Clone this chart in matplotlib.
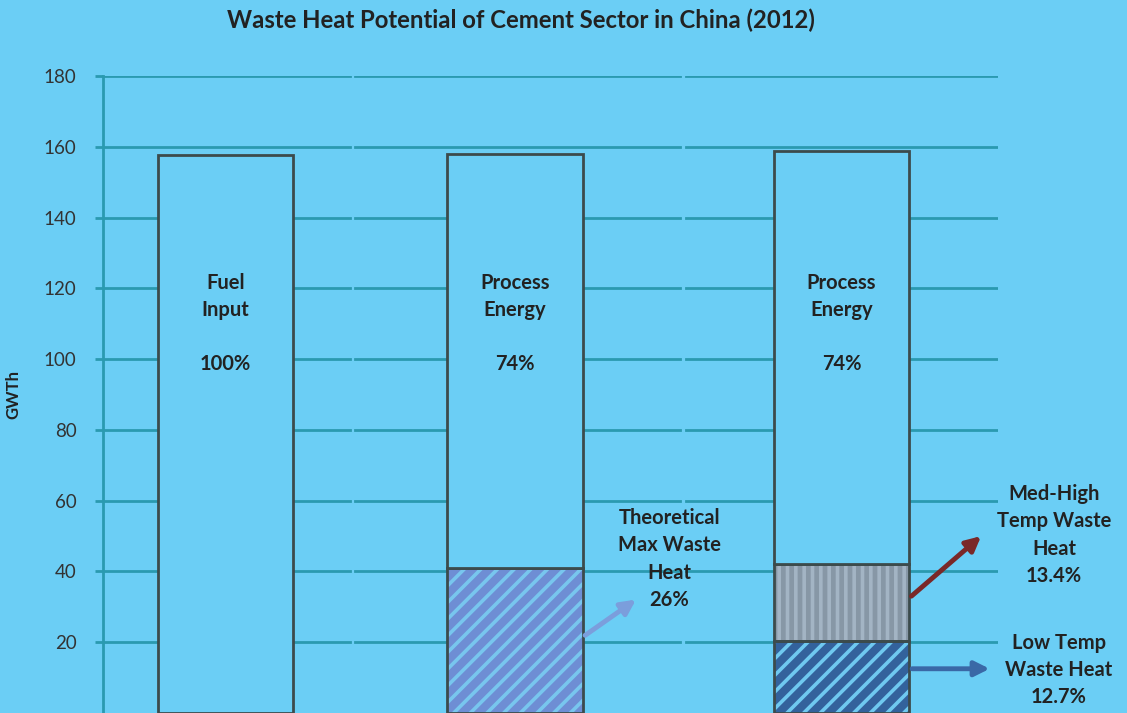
import matplotlib.pyplot as plt
import numpy as np

# Donnees (GWTh)
categories = ['Fuel Input', 'Process Energy', 'Process Energy']
pourcentages = ['100%', '74%', '74%']
fuel_input = 157.6
process_energy = [116.9, 116.6]
waste_max = 41.1
waste_med_high = 21.9
waste_low = 20.3
waste_labels = ['Theoretical\nMax Waste\nHeat\n26%', 'Med-High\nTemp Waste\nHeat\n13.4%', 'Low Temp\nWaste Heat\n12.7%']
yticks = [20, 40, 60, 80, 100, 120, 140, 160, 180]

plt.rcParams['font.family'] = ['Lato', 'DejaVu Sans']
fond = '#6BCEF5'
grille = '#2A9AB0'
bord = '#3C4B4C'
plt.rcParams['hatch.linewidth'] = 2.6

fig = plt.figure(figsize=(11.27, 7.13), dpi=100, facecolor=fond)
ax = fig.add_axes([103 / 1127, 0, 895 / 1127, 1 - 76 / 713])
ax.set_facecolor(fond)

xpos = np.array([0.0, 0.94, 2.0])
w = 0.44

# Lignes de grille coupees en trois panneaux (image d'origine assemblee)
for y in yticks:
    for x0, x1 in [(0, 0.276), (0.282, 0.645), (0.651, 1.0)]:
        ax.axhline(y, x0, x1, color=grille, lw=2, zorder=0)

# Barre 1 : combustible
ax.bar(xpos[0], fuel_input, w, color=fond, edgecolor=bord, lw=2, zorder=3)

# Barre 2 : energie process + chaleur perdue max (hachuree)
ax.bar(xpos[1], waste_max, w, color='#6E8ED4', edgecolor='#78C6EE', hatch='//', lw=0, zorder=2)
ax.bar(xpos[1], waste_max, w, fill=False, edgecolor=bord, lw=2, zorder=3)
ax.bar(xpos[1], process_energy[0], w, bottom=waste_max, color=fond, edgecolor=bord, lw=2, zorder=3)

# Barre 3 : basse temp + moyenne/haute temp + energie process
ax.bar(xpos[2], waste_low, w, color='#33629C', edgecolor='#6FC9F0', hatch='//', lw=0, zorder=2)
ax.bar(xpos[2], waste_low, w, fill=False, edgecolor=bord, lw=2, zorder=3)
ax.bar(xpos[2], waste_med_high, w, bottom=waste_low, color='#8797A6', edgecolor='#A3B4C4', hatch='||', lw=0, zorder=2)
ax.bar(xpos[2], waste_med_high, w, bottom=waste_low, fill=False, edgecolor=bord, lw=2, zorder=3)
ax.bar(xpos[2], process_energy[1], w, bottom=waste_low + waste_med_high, color=fond, edgecolor=bord, lw=2, zorder=3)

# Textes dans les barres
for x, cat, pct in zip(xpos, categories, pourcentages):
    ax.text(x, 117.6, cat.replace(' ', '\n'), ha='center', va='center', fontsize=14.5,
            fontweight='bold', color='#222222', linespacing=1.45, zorder=4)
    ax.text(x, 98.6, pct, ha='center', va='center', fontsize=14.5, fontweight='bold',
            color='#222222', zorder=4)

# Etiquettes et fleches
kw = dict(ha='center', va='center', fontsize=14.5, fontweight='bold', color='#222222',
          linespacing=1.45, clip_on=False, zorder=4)
ax.text(1.44, 43.5, waste_labels[0], **kw)
ax.text(2.69, 50.3, waste_labels[1], **kw)
ax.text(2.705, 12.1, waste_labels[2], **kw)

ax.annotate('', xy=(1.34, 32.5), xytext=(xpos[1] + w / 2, 21.5),
            arrowprops=dict(arrowstyle='-|>', color='#7B9EDC', lw=3.5, mutation_scale=22), zorder=4)
ax.annotate('', xy=(2.46, 50.5), xytext=(xpos[2] + w / 2, 32.5),
            arrowprops=dict(arrowstyle='-|>', color='#7A2828', lw=3.5, mutation_scale=22), zorder=4)
ax.annotate('', xy=(2.49, 12.5), xytext=(xpos[2] + w / 2, 12.5),
            arrowprops=dict(arrowstyle='-|>', color='#3A68A6', lw=3.5, mutation_scale=22),
            annotation_clip=False, zorder=4)

# Axes
ax.set_xlim(-0.398, 2.508)
ax.set_ylim(0, 180)
ax.set_yticks(yticks)
ax.tick_params(axis='y', length=6, width=2, color=grille, labelsize=13.5, labelcolor='#333333', pad=13)
ax.set_xticks([])
for s in ['top', 'right', 'bottom']:
    ax.spines[s].set_visible(False)
ax.spines['left'].set_color(grille)
ax.spines['left'].set_linewidth(2)
ax.set_ylabel('GWTh', fontsize=12, fontweight='bold', color='#222222', labelpad=16)

fig.text(521 / 1127, 1 - 20 / 713, 'Waste Heat Potential of Cement Sector in China (2012)',
         ha='center', va='center', fontsize=17.2, fontweight='bold', color='#222222')

fig.savefig('out.png', dpi=100, facecolor=fond)
